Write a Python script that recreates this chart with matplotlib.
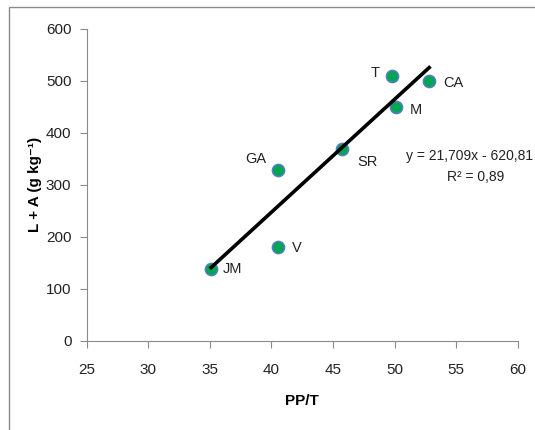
import matplotlib.pyplot as plt
from matplotlib.patches import Rectangle

plt.rcParams['font.family'] = ['Liberation Sans Narrow', 'Liberation Sans', 'DejaVu Sans']

# PP/T vs L + A for each site
sites = ["JM", "V", "GA", "SR", "T", "M", "CA"]
pp_t = [35.1, 40.5, 40.5, 45.7, 49.8, 50.1, 52.8]
l_a = [139, 181, 329, 369, 510, 449, 500]

# linear fit as reported
slope = 21.709
intercept = -620.81
r2 = 0.89

# label offsets in pixels (dx, dy) and alignment
offsets = {
    "JM": (12, 0, "left"),
    "V": (14, -1, "left"),
    "GA": (-11, 11, "right"),
    "SR": (16, -13, "left"),
    "T": (-13, 3, "right"),
    "M": (14, -3, "left"),
    "CA": (14, -2, "left"),
}

W, H = 535, 430
fig = plt.figure(figsize=(W / 100, H / 100), dpi=100)
ax = fig.add_axes([0.162, 0.207, 0.806, 0.726])

# outer chart frame
fig.patches.append(Rectangle((0.017, -0.02), 1.1, 0.984 + 0.02, transform=fig.transFigure,
                             fill=False, edgecolor="#8a8a8a", linewidth=1.0))

x0, x1 = min(pp_t), max(pp_t)
ax.plot([x0, x1], [slope * x0 + intercept, slope * x1 + intercept],
        color="black", linewidth=2.6, zorder=3)
ax.scatter(pp_t, l_a, s=75, color="#00a651", edgecolors="#4f81bd", linewidths=1.2, zorder=2)

for name, x, y in zip(sites, pp_t, l_a):
    dx, dy, ha = offsets[name]
    ax.annotate(name, (x, y), xytext=(dx * 0.72, dy * 0.72), textcoords="offset points",
                ha=ha, va="center", fontsize=10.5, color="#222222")

# regression equation, placed in pixel positions from top-left
fig.text(533 / W, 1 - 156 / H, "y = 21,709x - 620,81", fontsize=10, color="#222222",
         ha="right", va="center")
fig.text(476 / W, 1 - 177 / H, f"R² = {r2:.2f}".replace(".", ","), fontsize=10,
         color="#222222", ha="center", va="center")

ax.set_xlim(25, 60)
ax.set_ylim(0, 600)
ax.set_xticks(range(25, 61, 5))
ax.set_yticks(range(0, 601, 100))

for side in ["top", "right"]:
    ax.spines[side].set_visible(False)
for side in ["left", "bottom"]:
    ax.spines[side].set_color("#8a8a8a")
ax.tick_params(direction="out", length=5, color="#8a8a8a", labelsize=11, labelcolor="#222222")
ax.tick_params(axis="x", pad=11)
ax.tick_params(axis="y", pad=6)

ax.set_xlabel("PP/T", fontsize=11, fontweight="bold", labelpad=12)
ax.set_ylabel("L + A (g kg⁻¹)", fontsize=11, fontweight="bold", labelpad=3)

fig.savefig("out.png", dpi=100)
